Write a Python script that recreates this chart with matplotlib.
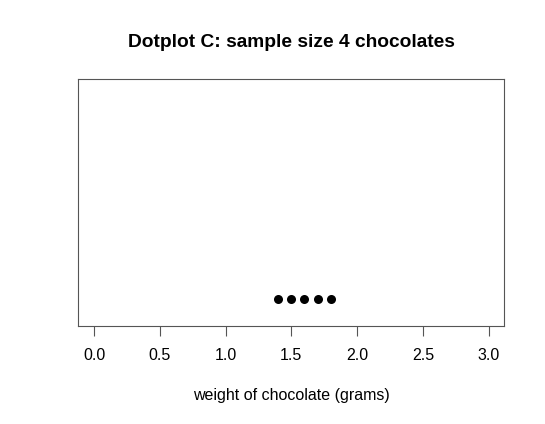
import matplotlib
matplotlib.use("Agg")
import matplotlib.pyplot as plt

plt.rcParams['font.family'] = ['Liberation Sans', 'DejaVu Sans']

weights = [1.4, 1.5, 1.6, 1.7, 1.8]
counts = [1, 1, 1, 1, 1]
xticks = [0.0, 0.5, 1.0, 1.5, 2.0, 2.5, 3.0]
xtick_labels = ["0.0", "0.5", "1.0", "1.5", "2.0", "2.5", "3.0"]

fig = plt.figure(figsize=(5.45, 4.24), dpi=100)
ax = fig.add_axes([0.1437, 0.2311, 0.7817, 0.5833])
ax.plot(weights, counts, 'o', color='black', markersize=6.5, markeredgewidth=0)
ax.set_xlim(-0.12, 3.12)
ax.set_ylim(0.6, 4.3)
ax.set_yticks([])
for s in ax.spines.values():
    s.set_color('#555555')
    s.set_linewidth(0.8)
ax.set_xticks(xticks)
ax.set_xticklabels(xtick_labels, fontsize=11.5)
ax.tick_params(axis='x', direction='out', length=7, width=0.8, color='#555555', pad=9)

fig.text(0.5345, 0.8986, "Dotplot C: sample size 4 chocolates", ha='center', va='center',
         fontsize=13.8, fontweight='bold')
fig.text(0.5345, 0.068, "weight of chocolate (grams)", ha='center', va='center', fontsize=11.5)

fig.savefig("out.png", dpi=100)
